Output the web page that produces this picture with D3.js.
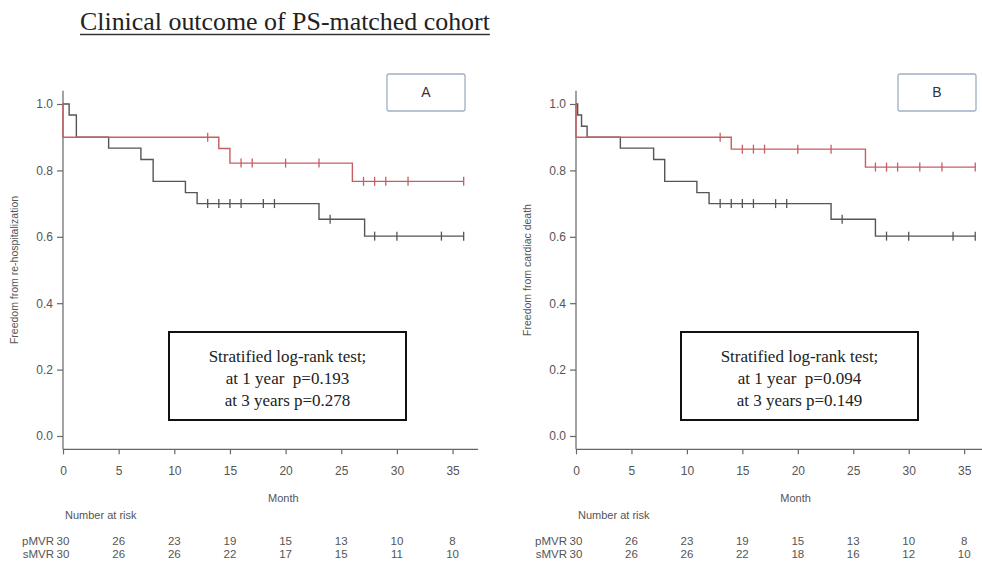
<!DOCTYPE html>
<html><head><meta charset="utf-8">
<script src="https://cdn.jsdelivr.net/npm/d3@7"></script>
<style>body{margin:0;background:#fff}svg{display:block}</style>
</head><body>
<script>
// ---------- data ----------
const panels = ["A", "B"];
const yLabels = ["Freedom from re-hospitalization", "Freedom from cardiac death"];
const xTicks = [0, 5, 10, 15, 20, 25, 30, 35];
const yTicks = [0, 0.2, 0.4, 0.6, 0.8, 1.0];
const groups = ["pMVR", "sMVR"];
// events: [month, survival after event]
const eventsA_pMVR = [[0.55,0.967],[1.2,0.9],[4.1,0.867],[7,0.833],[8.1,0.767],[11,0.733],[12.05,0.70],[23,0.653],[27.1,0.602]];
const censorA_pMVR = [13,14,15,16,18,19,24,28,30,34,36];
const eventsA_sMVR = [[0,0.9],[14,0.866],[15,0.822],[26,0.767]];
const censorA_sMVR = [13,16,17,20,23,27,28,29,31,36];
const eventsB_pMVR = [[0.15,0.967],[0.5,0.933],[1.0,0.9],[4,0.867],[7,0.833],[8,0.767],[10.9,0.733],[12,0.70],[23,0.653],[27,0.602]];
const censorB_pMVR = [13,14,15,16,18,19,24,28,30,34,36];
const eventsB_sMVR = [[0,0.9],[14,0.864],[26.1,0.81]];
const censorB_sMVR = [13,15,16,17,20,23,27,28,29,31,33,36];
const riskA_pMVR = [30,26,23,19,15,13,10,8];
const riskA_sMVR = [30,26,26,22,17,15,11,10];
const riskB_pMVR = [30,26,23,19,15,13,10,8];
const riskB_sMVR = [30,26,26,22,18,16,12,10];
const statsA = ["Stratified log-rank test;", "at 1 year  p=0.193", "at 3 years p=0.278"];
const statsB = ["Stratified log-rank test;", "at 1 year  p=0.094", "at 3 years p=0.149"];
const title = "Clinical outcome of PS-matched cohort";

const panelData = [
  {label:"A", yLabel:yLabels[0], x0:63, pm:11.13, stats:statsA, statBox:169,
   series:[{name:"pMVR", ev:eventsA_pMVR, cen:censorA_pMVR, color:"#555555"},
           {name:"sMVR", ev:eventsA_sMVR, cen:censorA_sMVR, color:"#c65e62"}],
   risk:[riskA_pMVR, riskA_sMVR], labelBox:387},
  {label:"B", yLabel:yLabels[1], x0:576, pm:11.09, stats:statsB, statBox:681,
   series:[{name:"pMVR", ev:eventsB_pMVR, cen:censorB_pMVR, color:"#555555"},
           {name:"sMVR", ev:eventsB_sMVR, cen:censorB_sMVR, color:"#c65e62"}],
   risk:[riskB_pMVR, riskB_sMVR], labelBox:898}
];

const W = 982, H = 563;
const svg = d3.select("body").append("svg").attr("width", W).attr("height", H);
const sans = "Liberation Sans, Arial, sans-serif";
const serif = "Liberation Serif, Times New Roman, serif";

// title
const t = svg.append("text").attr("x", 80).attr("y", 30)
  .attr("font-family", serif).attr("font-size", 25.9).attr("fill", "#222")
  .text(title);
const tw = t.node().getComputedTextLength();
svg.append("line").attr("x1", 80).attr("x2", 80 + tw).attr("y1", 34.5).attr("y2", 34.5)
  .attr("stroke", "#333").attr("stroke-width", 1.4);

panelData.forEach(p => {
  const g = svg.append("g");
  const x = d3.scaleLinear().domain([0, 36]).range([p.x0, p.x0 + 36 * p.pm]);
  const y = d3.scaleLinear().domain([0, 1]).range([436, 104]);
  const axisCol = "#666", txtCol = "#555";

  // axis lines (L shape)
  g.append("line").attr("x1", x(0)).attr("x2", x(0)).attr("y1", y(1.04)).attr("y2", y(-0.04))
    .attr("stroke", axisCol).attr("stroke-width", 1.2);
  g.append("line").attr("x1", x(0)).attr("x2", Math.min(x(37.3), W)).attr("y1", y(-0.04)).attr("y2", y(-0.04))
    .attr("stroke", axisCol).attr("stroke-width", 1.2);

  // y axis ticks
  const ya = d3.axisLeft(y).tickValues(yTicks).tickFormat(d3.format(".1f")).tickSize(6).tickPadding(4);
  const yg = g.append("g").attr("transform", `translate(${x(0)},0)`).call(ya);
  yg.select(".domain").remove();
  yg.selectAll("line").attr("stroke", axisCol).attr("stroke-width", 1.2);
  yg.selectAll("text").attr("font-family", sans).attr("font-size", 12).attr("fill", txtCol);

  // x axis ticks
  const xa = d3.axisBottom(x).tickValues(xTicks).tickSize(5).tickPadding(12);
  const xg = g.append("g").attr("transform", `translate(0,${y(-0.04)})`).call(xa);
  xg.select(".domain").remove();
  xg.selectAll("line").attr("stroke", axisCol).attr("stroke-width", 1.2);
  xg.selectAll("text").attr("font-family", sans).attr("font-size", 12).attr("fill", txtCol);

  // axis titles
  g.append("text").attr("transform", `translate(${p.x0 - 45},${y(0.5)}) rotate(-90)`)
    .attr("text-anchor", "middle").attr("font-family", sans).attr("font-size", 10.5)
    .attr("fill", txtCol).text(p.yLabel);
  g.append("text").attr("x", x(19.8)).attr("y", 502).attr("text-anchor", "middle")
    .attr("font-family", sans).attr("font-size", 11).attr("fill", txtCol).text("Month");

  // curves
  p.series.forEach(s => {
    const pts = [[0, 1]].concat(s.ev);
    const last = s.cen[s.cen.length - 1];
    pts.push([last, pts[pts.length - 1][1]]);
    const line = d3.line().x(d => x(d[0])).y(d => y(d[1])).curve(d3.curveStepAfter);
    g.append("path").attr("d", line(pts)).attr("fill", "none")
      .attr("stroke", s.color).attr("stroke-width", 1.4);
    const survAt = tm => { let v = 1; s.ev.forEach(e => { if (e[0] <= tm) v = e[1]; }); return v; };
    g.selectAll(null).data(s.cen).enter().append("line")
      .attr("x1", d => x(d)).attr("x2", d => x(d))
      .attr("y1", d => y(survAt(d)) - 4.5).attr("y2", d => y(survAt(d)) + 4.5)
      .attr("stroke", s.color).attr("stroke-width", 1.3);
  });

  // panel label box
  g.append("rect").attr("x", p.labelBox).attr("y", 74).attr("width", 78).attr("height", 37)
    .attr("rx", 2).attr("fill", "#fff").attr("stroke", "#9fb0c4").attr("stroke-width", 1.3);
  g.append("text").attr("x", p.labelBox + 39).attr("y", 97).attr("text-anchor", "middle")
    .attr("font-family", sans).attr("font-size", 14).attr("fill", "#333").text(p.label);

  // stats box
  g.append("rect").attr("x", p.statBox).attr("y", 332).attr("width", 237).attr("height", 88)
    .attr("fill", "#fff").attr("stroke", "#111").attr("stroke-width", 2);
  p.stats.forEach((s, i) => {
    g.append("text").attr("x", p.statBox + 118.5).attr("y", 362 + i * 22)
      .attr("text-anchor", "middle").attr("font-family", serif).attr("font-size", 17)
      .attr("fill", "#222").attr("xml:space", "preserve").style("white-space", "pre").text(s);
  });

  // number at risk
  g.append("text").attr("x", x(0) + 2).attr("y", 519).attr("font-family", sans)
    .attr("font-size", 11).attr("fill", txtCol).text("Number at risk");
  groups.forEach((gr, gi) => {
    const yy = 545 + gi * 13;
    g.append("text").attr("x", x(0) - 9).attr("y", yy).attr("text-anchor", "end")
      .attr("font-family", sans).attr("font-size", 11.5).attr("fill", txtCol).text(gr);
    g.selectAll(null).data(p.risk[gi]).enter().append("text")
      .attr("x", (d, i) => x(xTicks[i])).attr("y", yy).attr("text-anchor", "middle")
      .attr("font-family", sans).attr("font-size", 11.5).attr("fill", txtCol).text(d => d);
  });
});
</script>
</body></html>
